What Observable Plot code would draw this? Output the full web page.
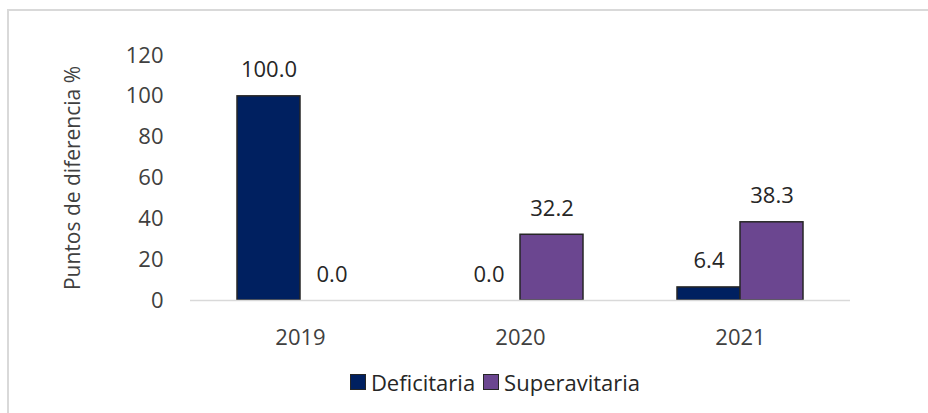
<!DOCTYPE html>
<html>
<head>
<meta charset="utf-8">
<script src="https://cdn.jsdelivr.net/npm/d3@7"></script>
<script src="https://cdn.jsdelivr.net/npm/@observablehq/plot@0.6"></script>
<style>
  html, body { margin: 0; padding: 0; background: #fff; overflow: hidden; width: 928px; height: 413px; }
  #frame { position: absolute; left: 7px; top: 9px; width: 960px; height: 440px; border: 2px solid #d9d9d9; box-sizing: border-box; }
  #chart { position: absolute; left: 0; top: 0; }
  #chart svg text { font-size: 22px; }
  #chart svg text.ylab { font-size: 21px; }
  #legend { position: absolute; left: 0; top: 367px; width: 990px; display: flex; justify-content: center; font-family: "Open Sans", sans-serif; font-size: 22px; color: #262626; }
  .sw { display: flex; align-items: center; margin: 0 4px; }
  .sw span.box { display: inline-block; width: 14px; height: 14px; border: 1.5px solid #262626; margin-right: 5px; }
</style>
</head>
<body>
<div id="frame"></div>
<div id="chart"></div>
<div id="legend"></div>
<script>
const years = ["2019", "2020", "2021"];
const series = ["Deficitaria", "Superavitaria"];
const deficitaria = [100.0, 0.0, 6.4];
const superavitaria = [0.0, 32.2, 38.3];
const colors = ["#002060", "#6B4690"];
const yTicks = [0, 20, 40, 60, 80, 100, 120];
const yLabel = "Puntos de diferencia %";

const data = [];
years.forEach((y, i) => {
  data.push({year: y, serie: series[0], value: deficitaria[i]});
  data.push({year: y, serie: series[1], value: superavitaria[i]});
});

const font = '"Open Sans", sans-serif';
const plot = Plot.plot({
  width: 928,
  height: 355,
  marginLeft: 190,
  marginRight: 78,
  marginTop: 55,
  marginBottom: 55,
  style: { fontFamily: font, fontSize: "22px", color: "#404040", background: "transparent" },
  fx: { domain: years, padding: 0, label: null, tickSize: 0, tickPadding: 29 },
  x: { domain: series, paddingInner: 0, paddingOuter: 0.73, axis: null },
  y: { domain: [0, 120], ticks: yTicks, tickSize: 0, tickPadding: 27,
       label: yLabel, labelArrow: "none", labelAnchor: "center", labelOffset: 125 },
  color: { domain: series, range: colors },
  marks: [
    Plot.barY(data, { fx: "year", x: "serie", y: "value", fill: "serie", stroke: "#262626", strokeWidth: 1.5 }),
    Plot.ruleY([0], { stroke: "#d9d9d9", strokeWidth: 1.5 }),
    Plot.text(data, { fx: "year", x: "serie", y: "value", text: d => d.value.toFixed(1),
                      lineAnchor: "bottom", dy: -19, fill: "#262626", fontSize: 22 })
  ]
});
// strip any axis-label arrow that older Plot versions add
plot.querySelectorAll("text").forEach(t => {
  if (t.textContent.includes("Puntos")) { t.textContent = yLabel; t.classList.add("ylab"); }
});
document.getElementById("chart").appendChild(plot);

const leg = document.getElementById("legend");
series.forEach((s, i) => {
  const item = document.createElement("div");
  item.className = "sw";
  const b = document.createElement("span");
  b.className = "box";
  b.style.background = colors[i];
  item.appendChild(b);
  item.appendChild(document.createTextNode(s));
  leg.appendChild(item);
});
</script>
</body>
</html>
